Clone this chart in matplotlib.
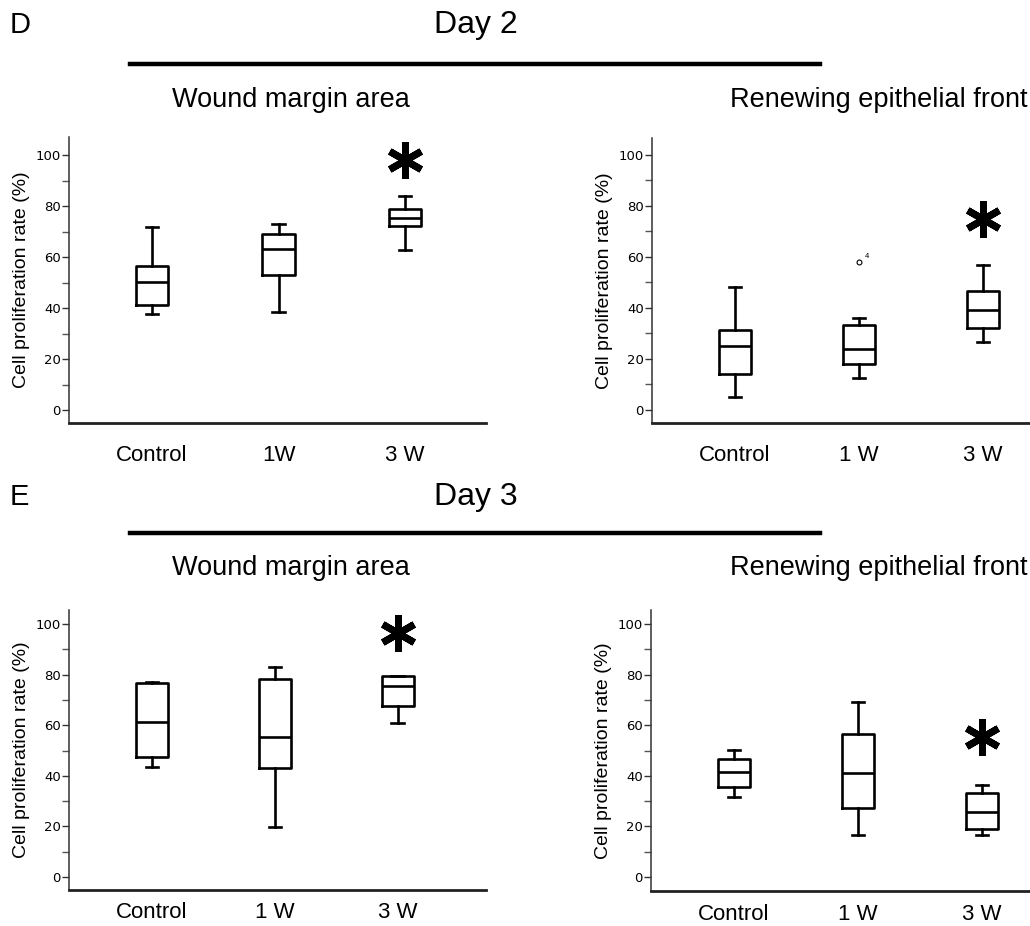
import matplotlib
matplotlib.use("Agg")
import matplotlib.pyplot as plt
from matplotlib.lines import Line2D

plt.rcParams['font.family'] = ['Liberation Sans', 'DejaVu Sans']

W, H = 1030, 926

# ---------------- data ----------------
groups_d2_wound = ["Control", "1W", "3 W"]
groups_other = ["Control", "1 W", "3 W"]

# Day 2 - Wound margin area
d2w_whislo = [37.6, 38.6, 62.7]
d2w_q1 = [41.2, 52.9, 72.0]
d2w_med = [50.3, 63.1, 75.3]
d2w_q3 = [56.3, 69.0, 79.0]
d2w_whishi = [71.6, 72.8, 83.9]
d2w_star = 98.0

# Day 2 - Renewing epithelial front
d2r_whislo = [5.2, 12.4, 26.6]
d2r_q1 = [14.1, 17.9, 32.0]
d2r_med = [25.1, 23.9, 39.3]
d2r_q3 = [31.5, 33.3, 46.5]
d2r_whishi = [48.2, 35.9, 56.8]
d2r_fliers = [[], [58.1], []]
d2r_flier_labels = [[], ["4"], []]
d2r_star = 74.8

# Day 3 - Wound margin area
d3w_whislo = [43.4, 19.9, 60.7]
d3w_q1 = [47.6, 43.0, 67.7]
d3w_med = [61.2, 55.4, 75.3]
d3w_q3 = [76.8, 78.1, 79.3]
d3w_whishi = [77.1, 83.0, 79.4]
d3w_star = 96.3

# Day 3 - Renewing epithelial front
d3r_whislo = [31.8, 16.8, 16.6]
d3r_q1 = [35.7, 27.2, 18.9]
d3r_med = [41.6, 41.1, 25.7]
d3r_q3 = [46.7, 56.6, 33.2]
d3r_whishi = [50.1, 69.1, 36.2]
d3r_star = 55.3

yticks = [0, 20, 40, 60, 80, 100]
ylabel = "Cell proliferation rate (%)"

fig = plt.figure(figsize=(W / 100, H / 100), dpi=100)


def ax_px(x0, x1, ytop, ybot):
    return fig.add_axes([x0 / W, 1 - ybot / H, (x1 - x0) / W, (ybot - ytop) / H])


def fx(x):
    return x / W


def fy(y):
    return 1 - y / H


def draw_panel(ax, labels, whislo, q1, med, q3, whishi, star, xlim, ylim,
               xpad, fliers=None, flier_labels=None):
    stats = []
    for i in range(len(labels)):
        stats.append(dict(whislo=whislo[i], q1=q1[i], med=med[i], q3=q3[i],
                          whishi=whishi[i],
                          fliers=(fliers[i] if fliers else []), label=labels[i]))
    pos = [1, 2, 3]
    lw = 1.9
    ax.bxp(stats, positions=pos, widths=0.26, showfliers=True,
           boxprops=dict(color='black', linewidth=lw),
           medianprops=dict(color='black', linewidth=lw),
           whiskerprops=dict(color='black', linewidth=lw),
           capprops=dict(color='black', linewidth=lw),
           flierprops=dict(marker='o', markersize=3.5, markerfacecolor='white',
                           markeredgecolor='black', markeredgewidth=0.8),
           capwidths=0.1)
    if flier_labels:
        for i, labs in enumerate(flier_labels):
            for v, lab in zip(fliers[i], labs):
                ax.text(pos[i] + 0.05, v + 0.5, lab, fontsize=5.5,
                        ha='left', va='bottom')
    ax.plot([3], [star], marker=(6, 2, 0), markersize=26, markeredgewidth=5,
            color='black', linestyle='none')
    ax.set_xlim(*xlim)
    ax.set_ylim(*ylim)
    ax.set_yticks(yticks)
    ax.set_yticks([10, 30, 50, 70, 90], minor=True)
    ax.set_xticks(pos)
    ax.set_xticklabels(labels, fontsize=16)
    ax.tick_params(axis='x', length=0, pad=xpad)
    ax.tick_params(axis='y', which='major', length=5, width=1, pad=1,
                   labelsize=9.5, color='#333333')
    ax.tick_params(axis='y', which='minor', length=5, width=1, color='#555555')
    for lab in ax.get_yticklabels():
        lab.set_family('DejaVu Sans')
    ax.spines['top'].set_visible(False)
    ax.spines['right'].set_visible(False)
    ax.spines['left'].set_linewidth(1.1)
    ax.spines['left'].set_color('#333333')
    ax.spines['bottom'].set_linewidth(2.0)
    ax.spines['bottom'].set_color('#222222')
    ax.set_ylabel(ylabel, fontsize=14, labelpad=4)


axA = ax_px(69, 486, 137, 423)
draw_panel(axA, groups_d2_wound, d2w_whislo, d2w_q1, d2w_med, d2w_q3, d2w_whishi,
           d2w_star, (0.344, 3.64), (-5.1, 107.1), 16)

axB = ax_px(652, 1030, 138, 423)
draw_panel(axB, groups_other, d2r_whislo, d2r_q1, d2r_med, d2r_q3, d2r_whishi,
           d2r_star, (0.33, 3.38), (-5.1, 106.5), 16,
           fliers=d2r_fliers, flier_labels=d2r_flier_labels)

axC = ax_px(69, 486, 610, 890)
draw_panel(axC, groups_other, d3w_whislo, d3w_q1, d3w_med, d3w_q3, d3w_whishi,
           d3w_star, (0.325, 3.72), (-5.1, 105.5), 9)

axD = ax_px(651, 1030, 610, 891)
draw_panel(axD, groups_other, d3r_whislo, d3r_q1, d3r_med, d3r_q3, d3r_whishi,
           d3r_star, (0.33, 3.39), (-5.5, 105.5), 9)

# ---------------- headers ----------------
for letter, day, ytxt, yline, ysub in [("D", "Day 2", 25, 64, 100),
                                       ("E", "Day 3", 497, 533, 568)]:
    fig.text(fx(10), fy(ytxt), letter, fontsize=21, ha='left', va='center')
    fig.text(fx(476), fy(ytxt), day, fontsize=23, ha='center', va='center')
    fig.add_artist(Line2D([fx(130), fx(820)], [fy(yline), fy(yline)],
                          color='black', linewidth=3.2,
                          transform=fig.transFigure))
    fig.text(fx(291), fy(ysub), "Wound margin area", fontsize=19.5,
             ha='center', va='center')
    fig.text(fx(1027), fy(ysub), "Renewing epithelial front", fontsize=19.5,
             ha='right', va='center')

fig.savefig("out.png", dpi=100)
